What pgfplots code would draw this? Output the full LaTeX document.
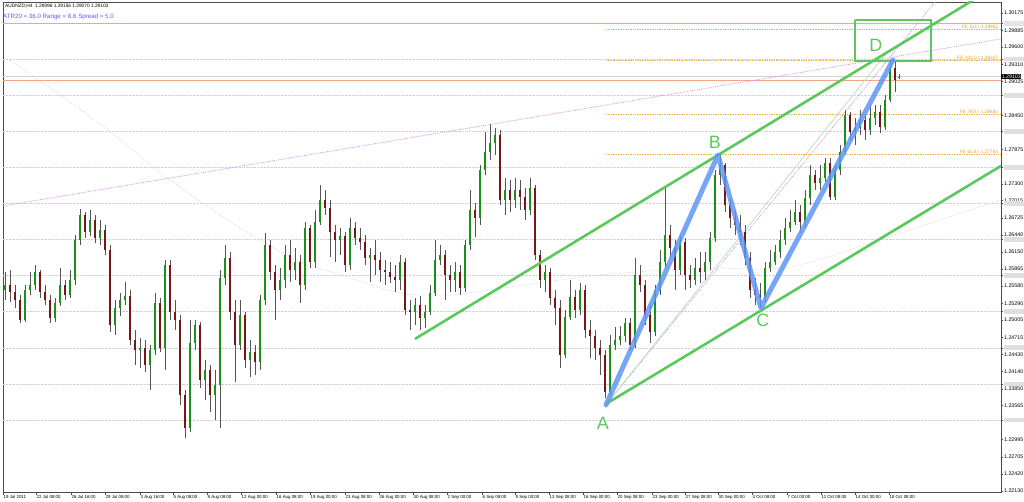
\documentclass[border=0pt]{standalone}
\usepackage{fontspec}
\setmainfont{Liberation Sans}
\usepackage{pgfplots}
\pgfplotsset{compat=1.18}
\usepackage{pgfplotstable}

\definecolor{upc}{RGB}{25,145,25}
\definecolor{dnc}{RGB}{120,22,22}
\definecolor{wick}{RGB}{85,85,85}
\definecolor{grn}{RGB}{92,200,92}
\definecolor{lgrn}{RGB}{175,228,175}
\definecolor{blu}{RGB}{95,150,245}
\definecolor{fib}{RGB}{232,180,80}
\definecolor{fibt}{RGB}{220,160,60}
\definecolor{salm}{RGB}{245,165,135}
\definecolor{vio}{RGB}{215,140,230}
\definecolor{atr}{RGB}{90,90,255}

\pgfplotstableread{
x o h l c
5 1.2551 1.2582 1.2535 1.2560
10 1.2560 1.2585 1.2531 1.2548
15 1.2548 1.2560 1.2521 1.2535
20 1.2535 1.2543 1.2496 1.2501
25 1.2501 1.2560 1.2497 1.2551
30 1.2551 1.2582 1.2543 1.2560
35 1.2560 1.2593 1.2551 1.2582
40 1.2582 1.2585 1.2538 1.2548
45 1.2548 1.2560 1.2526 1.2535
50 1.2535 1.2543 1.2496 1.2504
55 1.2504 1.2538 1.2497 1.2529
60 1.2529 1.2588 1.2524 1.2560
65 1.2560 1.2568 1.2535 1.2543
70 1.2543 1.2585 1.2538 1.2568
75 1.2568 1.2644 1.2560 1.2636
80 1.2636 1.2688 1.2627 1.2678
85 1.2678 1.2683 1.2639 1.2649
90 1.2649 1.2686 1.2642 1.2669
95 1.2669 1.2678 1.2630 1.2639
100 1.2639 1.2669 1.2627 1.2652
105 1.2652 1.2661 1.2610 1.2619
110 1.2619 1.2627 1.2481 1.2492
115 1.2492 1.2535 1.2476 1.2521
120 1.2521 1.2546 1.2508 1.2535
125 1.2535 1.2565 1.2526 1.2541
130 1.2541 1.2551 1.2459 1.2467
135 1.2467 1.2484 1.2425 1.2450
140 1.2450 1.2471 1.2420 1.2454
145 1.2454 1.2467 1.2413 1.2425
150 1.2425 1.2459 1.2383 1.2450
155 1.2450 1.2546 1.2442 1.2529
160 1.2529 1.2538 1.2447 1.2454
165 1.2454 1.2602 1.2417 1.2593
170 1.2593 1.2602 1.2501 1.2514
175 1.2514 1.2535 1.2484 1.2501
180 1.2501 1.2509 1.2358 1.2375
185 1.2375 1.2383 1.2302 1.2319
190 1.2319 1.2501 1.2312 1.2462
195 1.2462 1.2501 1.2450 1.2492
200 1.2492 1.2497 1.2386 1.2400
205 1.2400 1.2434 1.2366 1.2417
210 1.2417 1.2425 1.2346 1.2375
215 1.2375 1.2417 1.2333 1.2392
220 1.2392 1.2585 1.2319 1.2572
225 1.2572 1.2627 1.2560 1.2605
230 1.2605 1.2615 1.2501 1.2514
235 1.2514 1.2535 1.2397 1.2459
240 1.2459 1.2535 1.2450 1.2509
245 1.2509 1.2514 1.2420 1.2434
250 1.2434 1.2467 1.2405 1.2447
255 1.2447 1.2459 1.2408 1.2430
260 1.2430 1.2543 1.2417 1.2535
265 1.2535 1.2647 1.2526 1.2627
270 1.2627 1.2636 1.2568 1.2582
275 1.2582 1.2593 1.2501 1.2551
280 1.2551 1.2588 1.2535 1.2568
285 1.2568 1.2627 1.2555 1.2610
290 1.2610 1.2636 1.2565 1.2585
295 1.2585 1.2622 1.2568 1.2598
300 1.2598 1.2610 1.2529 1.2560
305 1.2560 1.2666 1.2551 1.2656
310 1.2656 1.2661 1.2588 1.2598
315 1.2598 1.2686 1.2588 1.2666
320 1.2666 1.2728 1.2661 1.2703
325 1.2703 1.2720 1.2678 1.2689
330 1.2689 1.2703 1.2607 1.2649
335 1.2649 1.2661 1.2598 1.2636
340 1.2636 1.2656 1.2610 1.2642
345 1.2642 1.2649 1.2582 1.2593
350 1.2593 1.2673 1.2585 1.2656
355 1.2656 1.2666 1.2627 1.2639
360 1.2639 1.2656 1.2619 1.2632
365 1.2632 1.2644 1.2593 1.2605
370 1.2605 1.2622 1.2565 1.2610
375 1.2610 1.2636 1.2577 1.2602
380 1.2602 1.2615 1.2565 1.2585
385 1.2585 1.2602 1.2560 1.2582
390 1.2582 1.2598 1.2563 1.2573
395 1.2573 1.2593 1.2548 1.2568
400 1.2568 1.2610 1.2551 1.2598
405 1.2598 1.2605 1.2509 1.2518
410 1.2518 1.2535 1.2484 1.2514
415 1.2514 1.2538 1.2492 1.2526
420 1.2526 1.2541 1.2484 1.2504
425 1.2504 1.2526 1.2487 1.2514
430 1.2514 1.2560 1.2509 1.2546
435 1.2546 1.2636 1.2541 1.2602
440 1.2602 1.2627 1.2593 1.2610
445 1.2610 1.2619 1.2535 1.2577
450 1.2577 1.2593 1.2548 1.2568
455 1.2568 1.2598 1.2548 1.2582
460 1.2582 1.2593 1.2543 1.2555
465 1.2555 1.2636 1.2548 1.2627
470 1.2627 1.2720 1.2619 1.2686
475 1.2686 1.2698 1.2641 1.2673
480 1.2673 1.2762 1.2661 1.2753
485 1.2753 1.2817 1.2745 1.2784
490 1.2784 1.2831 1.2770 1.2799
495 1.2799 1.2824 1.2779 1.2812
500 1.2812 1.2821 1.2694 1.2703
505 1.2703 1.2740 1.2678 1.2720
510 1.2720 1.2736 1.2683 1.2703
515 1.2703 1.2740 1.2689 1.2720
520 1.2720 1.2736 1.2686 1.2708
525 1.2708 1.2723 1.2669 1.2686
530 1.2686 1.2740 1.2678 1.2723
535 1.2723 1.2728 1.2602 1.2610
540 1.2610 1.2619 1.2555 1.2568
545 1.2568 1.2593 1.2548 1.2582
550 1.2582 1.2588 1.2526 1.2538
555 1.2538 1.2551 1.2492 1.2521
560 1.2521 1.2535 1.2420 1.2442
565 1.2442 1.2518 1.2437 1.2506
570 1.2506 1.2568 1.2501 1.2540
575 1.2540 1.2551 1.2504 1.2518
580 1.2518 1.2563 1.2509 1.2551
585 1.2551 1.2560 1.2471 1.2484
590 1.2484 1.2501 1.2437 1.2474
595 1.2474 1.2484 1.2434 1.2454
600 1.2454 1.2467 1.2408 1.2442
605 1.2442 1.2450 1.2370 1.2380
610 1.2380 1.2476 1.2373 1.2459
615 1.2459 1.2489 1.2450 1.2467
620 1.2467 1.2491 1.2459 1.2474
625 1.2474 1.2504 1.2464 1.2496
630 1.2496 1.2504 1.2450 1.2459
635 1.2459 1.2605 1.2454 1.2577
640 1.2577 1.2593 1.2548 1.2560
645 1.2560 1.2568 1.2492 1.2509
650 1.2509 1.2526 1.2462 1.2481
655 1.2481 1.2560 1.2474 1.2551
660 1.2551 1.2619 1.2543 1.2598
665 1.2598 1.2725 1.2588 1.2644
670 1.2644 1.2661 1.2605 1.2622
675 1.2622 1.2636 1.2551 1.2585
680 1.2585 1.2644 1.2577 1.2632
685 1.2632 1.2639 1.2551 1.2577
690 1.2577 1.2593 1.2555 1.2568
695 1.2568 1.2605 1.2560 1.2588
700 1.2588 1.2615 1.2563 1.2582
705 1.2582 1.2615 1.2568 1.2598
710 1.2598 1.2649 1.2585 1.2639
715 1.2639 1.2753 1.2632 1.2745
720 1.2745 1.2779 1.2728 1.2762
725 1.2762 1.2765 1.2683 1.2694
730 1.2694 1.2706 1.2656 1.2673
735 1.2673 1.2686 1.2644 1.2661
740 1.2661 1.2678 1.2627 1.2649
745 1.2649 1.2661 1.2593 1.2605
750 1.2605 1.2615 1.2538 1.2551
755 1.2551 1.2572 1.2526 1.2543
760 1.2543 1.2563 1.2521 1.2538
765 1.2538 1.2598 1.2531 1.2588
770 1.2588 1.2619 1.2582 1.2598
775 1.2598 1.2627 1.2593 1.2615
780 1.2615 1.2652 1.2605 1.2636
785 1.2636 1.2673 1.2627 1.2656
790 1.2656 1.2686 1.2649 1.2666
795 1.2666 1.2703 1.2661 1.2683
800 1.2683 1.2694 1.2647 1.2666
805 1.2666 1.2720 1.2656 1.2706
810 1.2706 1.2762 1.2694 1.2745
815 1.2745 1.2753 1.2720 1.2732
820 1.2732 1.2762 1.2720 1.2740
825 1.2740 1.2774 1.2733 1.2765
830 1.2765 1.2774 1.2703 1.2708
835 1.2708 1.2762 1.2703 1.2753
840 1.2753 1.2795 1.2745 1.2784
845 1.2784 1.2854 1.2779 1.2846
850 1.2846 1.2851 1.2804 1.2817
855 1.2817 1.2841 1.2795 1.2824
860 1.2824 1.2854 1.2812 1.2837
865 1.2837 1.2846 1.2804 1.2821
870 1.2821 1.2863 1.2812 1.2841
875 1.2841 1.2863 1.2829 1.2851
880 1.2851 1.2863 1.2816 1.2826
885 1.2826 1.2880 1.2821 1.2871
890 1.2871 1.2935 1.2868 1.2925
895 1.2925 1.2938 1.2885 1.2905
899 1.29096 1.29156 1.29070 1.29103
}\candles

\begin{document}
\begin{tikzpicture}
\useasboundingbox (-3bp,-10bp) rectangle (1021bp,492bp);
\begin{axis}[
  at={(0,0)}, anchor=south west, scale only axis,
  width=998bp, height=490bp,
  xmin=3, xmax=1001, ymin=1.22113, ymax=1.30360,
  clip mode=individual,
  axis line style={draw=gray!60!black, line width=0.8bp},
  tick style={gray!60!black, line width=0.5bp},
  tick align=outside, major tick length=2.5bp,
  xtick pos=left, ytick pos=right, yticklabel pos=right,
  scaled ticks=false,
  xtick={3,36,71,105,140,173,207,241,276,310,345,379,413,447,482,515,549,583,617,652,685,718,752,787,821,855,889},
  xticklabels={19 Jul 2011,22 Jul 08:00,26 Jul 16:00,29 Jul 08:00,3 Aug 16:00,5 Aug 08:00,9 Aug 08:00,12 Aug 00:00,16 Aug 08:00,19 Aug 00:00,23 Aug 08:00,26 Aug 00:00,30 Aug 08:00,2 Sep 00:00,6 Sep 08:00,9 Sep 00:00,13 Sep 08:00,16 Sep 00:00,20 Sep 08:00,23 Sep 00:00,27 Sep 08:00,30 Sep 00:00,4 Oct 08:00,7 Oct 00:00,11 Oct 08:00,14 Oct 00:00,18 Oct 08:00},
  xticklabel style={anchor=north west, font=\fontsize{4.4}{5}\selectfont, inner sep=0.5bp},
  ytick={1.22130,1.22420,1.22705,1.22995,1.23565,1.23850,1.24140,1.24430,1.24715,1.25005,1.25290,1.25580,1.25865,1.26150,1.26440,1.26725,1.27015,1.27300,1.27875,1.28450,1.29025,1.29310,1.29600,1.29885,1.30175},
  yticklabels={1.22130,1.22420,1.22705,1.22995,1.23565,1.23850,1.24140,1.24430,1.24715,1.25005,1.25290,1.25580,1.25865,1.26150,1.26440,1.26725,1.27015,1.27300,1.27875,1.28450,1.29025,1.29310,1.29600,1.29885,1.30175},
  yticklabel style={anchor=west, font=\fontsize{5.3}{6}\selectfont, inner sep=0.5bp},
  extra y ticks={1.23324,1.23931,1.24539,1.25147,1.25754,1.26362,1.26969,1.27577,1.28184,1.28792,1.29399,1.29997},
  extra y tick labels={\phantom{1.23324},\phantom{1.23931},\phantom{1.24539},\phantom{1.25147},\phantom{1.25754},\phantom{1.26362},\phantom{1.26969},\phantom{1.27577},\phantom{1.28184},\phantom{1.28792},\phantom{1.29399},1.30000},
  extra y tick style={grid=major, major grid style={densely dotted, gray!35, line width=0.6bp},
    yticklabel style={fill=gray!25, text=gray!5}},
]
% long moving average (faint)
\addplot[densely dotted, gray!40, line width=0.6bp, smooth] coordinates {
(10,1.29384) (95,1.28374) (170,1.27365) (240,1.26557) (300,1.25984) (335,1.25800) (400,1.25463) (450,1.25429) (475,1.25480) (540,1.25631) (600,1.25766) (700,1.25884) (790,1.25900) (900,1.26473) (1001,1.27028)};
% horizontal lines
\addplot[salm, line width=1bp] coordinates {(3,1.29997) (1001,1.29997)};
\addplot[gray!35, line width=0.8bp] coordinates {(3,1.29103) (1001,1.29103)};
\addplot[salm, line width=1.2bp] coordinates {(3,1.29036) (1001,1.29036)};
% violet dotted trend lines
\addplot[vio, densely dotted, line width=0.8bp] coordinates {(3,1.26927) (1001,1.29738)};
\addplot[vio, densely dotted, line width=0.8bp] coordinates {(606,1.23578) (935,1.30360)};
\addplot[lgrn, line width=0.7bp] coordinates {(606,1.23578) (885,1.29468)};
% fibonacci expansion levels
\addplot[fib, densely dotted, line width=0.7bp] coordinates {(606,1.29901) (1001,1.29901)};
\addplot[fib, densely dotted, line width=0.7bp] coordinates {(606,1.29372) (1001,1.29372)};
\addplot[fib, densely dotted, line width=0.7bp] coordinates {(606,1.28475) (1001,1.28475)};
\addplot[fib, densely dotted, line width=0.7bp] coordinates {(606,1.27802) (1001,1.27802)};
\node[anchor=south east, text=fibt, font=\fontsize{4.8}{5}\selectfont, inner sep=0.6bp] at (axis cs:999,1.29901) {FE 113 / 1.29952};
\node[anchor=south east, text=fibt, font=\fontsize{4.8}{5}\selectfont, inner sep=0.6bp] at (axis cs:999,1.29372) {FE 100.0 / 1.29327};
\node[anchor=south east, text=fibt, font=\fontsize{4.8}{5}\selectfont, inner sep=0.6bp] at (axis cs:999,1.28475) {FE 78.6 / 1.28482};
\node[anchor=south east, text=fibt, font=\fontsize{4.8}{5}\selectfont, inner sep=0.6bp] at (axis cs:999,1.27802) {FE 61.8 / 1.27783};
% candles: wicks
\addplot[draw=none, mark=none, error bars/.cd, y dir=both, y explicit, error mark=none,
  error bar style={draw=wick, line width=0.6bp}]
  table[x=x, y=o, y error plus expr=\thisrow{h}-\thisrow{o}, y error minus expr=\thisrow{o}-\thisrow{l}] {\candles};
% bodies up
\addplot[draw=none, mark=none, restrict expr to domain={\thisrow{c}-\thisrow{o}}{0:1},
  error bars/.cd, y dir=plus, y explicit, error mark=none,
  error bar style={draw=upc, line width=2.6bp}]
  table[x=x, y=o, y error plus expr=\thisrow{c}-\thisrow{o}] {\candles};
% bodies down
\addplot[draw=none, mark=none, restrict expr to domain={\thisrow{c}-\thisrow{o}}{-1:0},
  error bars/.cd, y dir=plus, y explicit, error mark=none,
  error bar style={draw=dnc, line width=2.6bp}]
  table[x=x, y=c, y error plus expr=\thisrow{o}-\thisrow{c}] {\candles};
% channel
\addplot[grn, line width=2.6bp] coordinates {(415,1.24689) (1001,1.30675)};
\addplot[grn, line width=2.6bp] coordinates {(606,1.23595) (1001,1.27600)};
\addplot[grn, line width=2.4bp, line join=miter] coordinates {(855,1.30057) (931,1.30057) (931,1.29367) (855,1.29367) (855,1.30057)};
% ABCD
\addplot[blu, opacity=0.85, line width=5bp, line join=round, line cap=round] coordinates {(606,1.23578) (718,1.27785) (761,1.25210) (893,1.29384)};
\node[text=grn, font=\fontsize{18}{18}\selectfont] at (axis cs:603,1.23275) {A};
\node[text=grn, font=\fontsize{18}{18}\selectfont] at (axis cs:715,1.28004) {B};
\node[text=grn, font=\fontsize{18}{18}\selectfont] at (axis cs:763,1.25008) {C};
\node[text=grn, font=\fontsize{18}{18}\selectfont] at (axis cs:876,1.29637) {D};
% header
\node[anchor=north west, font=\fontsize{4.8}{5}\selectfont, inner sep=0] at (rel axis cs:0.002,0.996) {AUDNZD,H4\ \ 1.29096 1.29156 1.29070 1.29103};
\node[anchor=west, text=atr, font=\fontsize{6.2}{7}\selectfont, inner sep=0] at (rel axis cs:0.0,0.9694) {ATR20 = 36.0 Range = 8.6 Spread = 5.0};
\node[anchor=west, fill=black, text=white, font=\fontsize{5.3}{6}\selectfont, inner sep=0.6bp] at (axis cs:1001,1.29103) {1.29103};
\end{axis}
\end{tikzpicture}
\end{document}
